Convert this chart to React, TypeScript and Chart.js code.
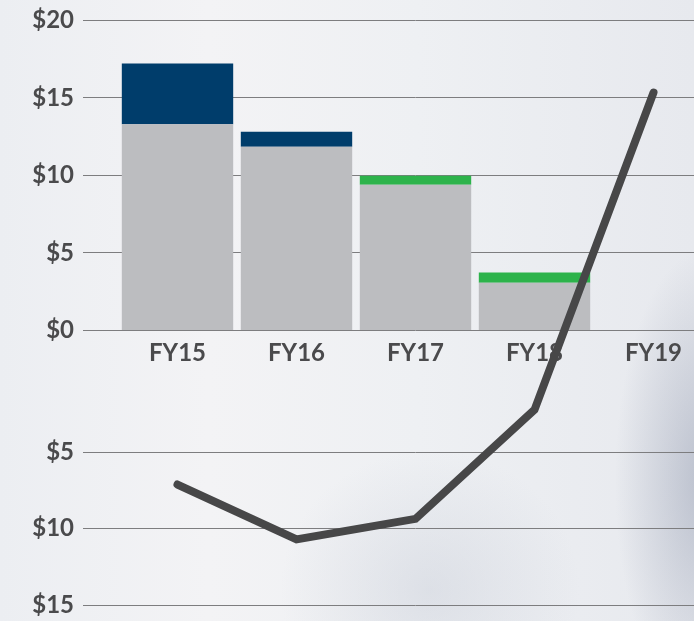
import React, { useEffect, useRef } from 'react';
import { Chart, registerables } from 'chart.js';

Chart.register(...registerables);

const categories = ['FY15', 'FY16', 'FY17', 'FY18', 'FY19'];
const baseValues = [13.3, 11.85, 9.4, 3.08, null];
const navyValues = [3.93, 0.97, null, null, null];
const greenValues = [null, null, 0.58, 0.66, null];
const lineValues = [-7.1, -10.7, -9.35, -2.2, 18.6];
const topTicks = [0, 5, 10, 15, 20];
const bottomTicks = [-5, -10, -15];

const TEXT = '#4a4a4c';
const GRID = '#7d7d7f';
const FONT = { family: 'Lato', size: 24, weight: 'bold' as const };

export default function App() {
  const ref = useRef<HTMLCanvasElement | null>(null);

  useEffect(() => {
    if (!ref.current) return;
    const label = (v: any) => '$' + Math.abs(Number(v));
    const fitLeft = (s: any) => {
      s.width = 118;
      s.paddingTop = 0;
      s.paddingBottom = 0;
    };
    const chart = new Chart(ref.current, {
      type: 'bar',
      data: {
        labels: categories,
        datasets: [
          { label: 'base', data: baseValues, backgroundColor: '#bcbdc0', yAxisID: 'y', stack: 's', order: 2 },
          { label: 'navy', data: navyValues, backgroundColor: '#003d6b', yAxisID: 'y', stack: 's', order: 2 },
          { label: 'green', data: greenValues, backgroundColor: '#2db34b', yAxisID: 'y', stack: 's', order: 2 },
          {
            type: 'line',
            label: 'line',
            data: lineValues,
            yAxisID: 'y2',
            stack: 'line',
            order: 1,
            clip: false,
            borderColor: '#474748',
            borderWidth: 8,
            borderCapStyle: 'round',
            borderJoinStyle: 'miter',
            pointRadius: 0,
            tension: 0,
            fill: false,
          } as any,
        ],
      },
      options: {
        animation: false,
        responsive: true,
        maintainAspectRatio: false,
        layout: { padding: { top: 20.5, bottom: 16, left: 0, right: 0 } },
        plugins: { legend: { display: false }, tooltip: { enabled: false } },
        datasets: { bar: { barPercentage: 1, categoryPercentage: 0.936 } },
        scales: {
          x: {
            type: 'category',
            position: { y: 0 } as any,
            stacked: true,
            offset: true,
            grid: { display: false, drawTicks: false },
            border: { display: false },
            ticks: { font: FONT, color: TEXT, padding: 8 },
          },
          y: {
            type: 'linear',
            position: 'left',
            stack: 'left',
            stackWeight: 310,
            weight: 1,
            stacked: true,
            min: 0,
            max: 20,
            afterBuildTicks: (s: any) => {
              s.ticks = topTicks.map((v) => ({ value: v }));
            },
            afterFit: fitLeft,
            grid: { color: GRID, lineWidth: 1, tickLength: 35 },
            border: { display: false },
            ticks: { font: FONT, color: TEXT, padding: 9, callback: label },
          },
          y2: {
            type: 'linear',
            position: 'left',
            stack: 'left',
            stackWeight: 274.5,
            weight: 0,
            min: -15,
            max: 3,
            afterBuildTicks: (s: any) => {
              s.ticks = bottomTicks.map((v) => ({ value: v }));
            },
            afterFit: fitLeft,
            grid: { color: GRID, lineWidth: 1, tickLength: 35 },
            border: { display: false },
            ticks: { font: FONT, color: TEXT, padding: 9, callback: label },
          },
        },
      } as any,
    });
    return () => chart.destroy();
  }, []);

  return (
    <div
      style={{
        position: 'fixed',
        left: 0,
        top: 0,
        width: '100vw',
        height: '100vh',
        overflow: 'hidden',
        background:
          'radial-gradient(ellipse 90px 230px at 705px 480px, rgba(150,158,178,0.55), rgba(150,158,178,0)),' +
          'radial-gradient(ellipse 150px 140px at 430px 590px, rgba(195,200,212,0.4), rgba(195,200,212,0)),' +
          'linear-gradient(90deg, #eceef2 0%, #f3f3f5 30%, #eef0f3 60%, #e7e9ee 100%)',
      }}
    >
      <div style={{ position: 'absolute', left: 0, top: 0, width: 713, height: 621 }}>
        <canvas ref={ref} />
      </div>
    </div>
  );
}
